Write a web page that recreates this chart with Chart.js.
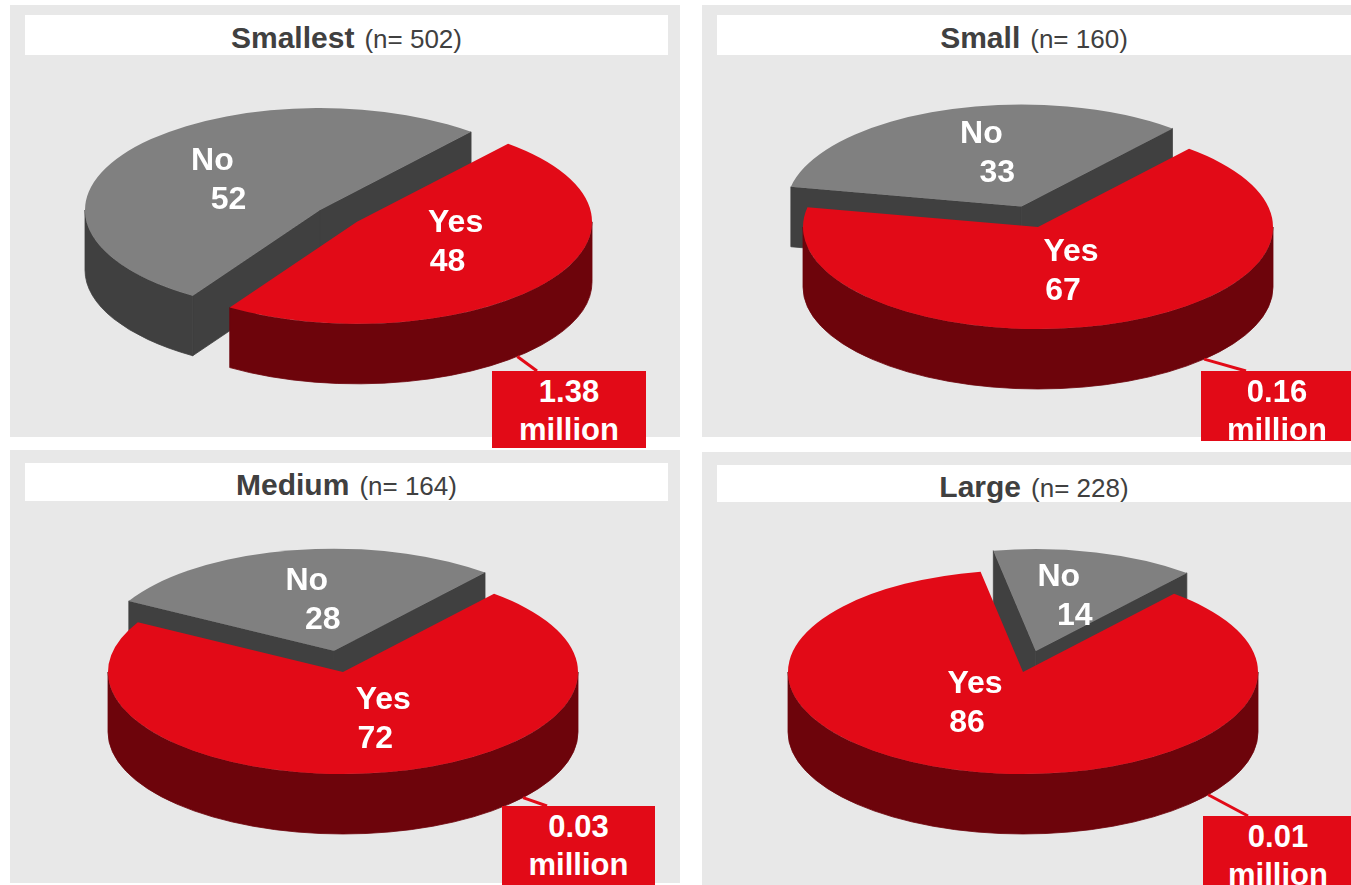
<!DOCTYPE html>
<html>
<head>
<meta charset="utf-8">
<script src="https://cdn.jsdelivr.net/npm/chart.js@4.4.0/dist/chart.umd.min.js"></script>
<style>
  body { margin: 0; width: 1351px; height: 885px; background: #fff; position: relative; overflow: hidden;
         font-family: "Liberation Sans", Arial, sans-serif; }
  .panel { position: absolute; background: #e8e8e8; }
  .title { position: absolute; background: #fff; color: #404040; text-align: center; white-space: nowrap; }
  .title b { font-size: 30px; }
  .title span { font-size: 26px; margin-left: 10px; }
  canvas { position: absolute; z-index: 2; }
  .callout { position: absolute; z-index: 5; background: #e20a17; color: #fff; font-weight: bold;
             font-size: 31px; line-height: 38px; padding-top: 2px; box-sizing: border-box; text-align: center; }
</style>
</head>
<body>
<script>
// survey answers per firm size, shares in percent
const groups = ['Smallest', 'Small', 'Medium', 'Large'];
const sampleSizes = [502, 160, 164, 228];
const answers = ['Yes', 'No'];
const yesShare = [48, 67, 72, 86];
const noShare = [52, 33, 28, 14];
const firmsMillion = ['1.38', '0.16', '0.03', '0.01'];

// panel layout (page pixels)
const layout = [
  { box: [10, 5, 670, 432],  title: [25, 15, 643, 40],  center: [320, 210], explode: [46, 0],
    callout: [492, 371, 154, 77], leaderAngle: 47, nudge: [[0, -10], [-5, 0]] },
  { box: [702, 5, 649, 432], title: [717, 15, 634, 40], center: [1038, 227], explode: [0, 50],
    callout: [1201, 371, 152, 70], leaderAngle: 45, nudge: [[-10, -4], [7, -5]] },
  { box: [10, 450, 670, 433], title: [25, 463, 643, 38], center: [343, 672], explode: [0, 50],
    callout: [502, 806, 153, 79], leaderAngle: 40, nudge: [[15, -3], [2, 0]] },
  { box: [702, 452, 649, 433], title: [717, 465, 634, 37], center: [1023, 672], explode: [0, 50],
    callout: [1203, 816, 150, 69], leaderAngle: 38, nudge: [[-22, -18], [1, -6]] }
];

const TILT = 0.434;     // vertical squash of the pie disc
const DEPTH = 60;       // thickness of the disc
const CW = 560, CH = 420;
const TOP = ['#e20a17', '#808080'];
const SIDE = ['#6d040b', '#404040'];
const LINE_SHIFT = [[4, -4], [-8, 8]];

function place(el, r) {
  el.style.left = r[0] + 'px'; el.style.top = r[1] + 'px';
  el.style.width = r[2] + 'px'; el.style.height = r[3] + 'px';
}

function geometry(arc) {
  const p = arc.getProps(['x', 'y', 'startAngle', 'endAngle', 'outerRadius']);
  const mid = (p.startAngle + p.endAngle) / 2;
  const off = arc.options.offset || 0;
  return {
    cx: p.x + Math.cos(mid) * off,
    cy: p.y + TILT * Math.sin(mid) * off,
    r: p.outerRadius, s: p.startAngle, e: p.endAngle, mid
  };
}

function drawPiece(ctx, g, top, side) {
  const { cx, cy, r, s, e } = g;
  const ry = r * TILT;
  ctx.fillStyle = side;
  ctx.strokeStyle = side;
  ctx.lineWidth = 0.8;
  // radial cut faces turned towards the viewer
  [[s, Math.cos(s) < 0], [e, Math.cos(e) > 0]].forEach(([a, show]) => {
    if (!show) return;
    const px = cx + r * Math.cos(a), py = cy + ry * Math.sin(a);
    ctx.beginPath();
    ctx.moveTo(cx, cy); ctx.lineTo(px, py);
    ctx.lineTo(px, py + DEPTH); ctx.lineTo(cx, cy + DEPTH);
    ctx.closePath(); ctx.fill(); ctx.stroke();
  });
  // front part of the rim
  for (let k = -1; k <= 1; k++) {
    const a = Math.max(s, 2 * Math.PI * k), b = Math.min(e, 2 * Math.PI * k + Math.PI);
    if (b <= a) continue;
    ctx.beginPath();
    ctx.ellipse(cx, cy, r, ry, 0, a, b);
    ctx.ellipse(cx, cy + DEPTH, r, ry, 0, b, a, true);
    ctx.closePath(); ctx.fill(); ctx.stroke();
  }
  // lid
  ctx.fillStyle = top;
  ctx.beginPath();
  ctx.moveTo(cx, cy);
  ctx.ellipse(cx, cy, r, ry, 0, s, e);
  ctx.closePath(); ctx.fill();
}

const pie3d = {
  id: 'pie3d',
  beforeDatasetDraw(chart) {
    const ctx = chart.ctx;
    const arcs = chart.getDatasetMeta(0).data;
    const pieces = arcs.map((arc, i) => ({ i, g: geometry(arc) }));
    pieces.sort((a, b) => Math.sin(a.g.mid) - Math.sin(b.g.mid));
    ctx.save();
    pieces.forEach(p => drawPiece(ctx, p.g, TOP[p.i], SIDE[p.i]));
    ctx.restore();
    return false;
  },
  afterDatasetsDraw(chart, args, opts) {
    const ctx = chart.ctx;
    const arcs = chart.getDatasetMeta(0).data;
    const values = chart.data.datasets[0].data;
    ctx.save();
    // leader from the Yes rim to its callout box
    const gy = geometry(arcs[0]);
    const la = opts.leaderAngle * Math.PI / 180;
    ctx.strokeStyle = '#e20a17';
    ctx.lineWidth = 3;
    ctx.beginPath();
    ctx.moveTo(gy.cx + gy.r * Math.cos(la), gy.cy + gy.r * TILT * Math.sin(la) + DEPTH);
    ctx.lineTo(opts.leaderEnd[0], opts.leaderEnd[1]);
    ctx.stroke();
    // slice labels
    ctx.font = 'bold 32px "Liberation Sans", Arial, sans-serif';
    ctx.fillStyle = '#fff';
    ctx.textAlign = 'center';
    ctx.textBaseline = 'middle';
    arcs.forEach((arc, i) => {
      const g = geometry(arc);
      const x = g.cx + 0.5 * g.r * Math.cos(g.mid) + opts.nudge[i][0];
      const y = g.cy + 0.5 * g.r * TILT * Math.sin(g.mid) + opts.nudge[i][1];
      ctx.fillText(chart.data.labels[i], x + LINE_SHIFT[i][0], y - 19);
      ctx.fillText(String(values[i]), x + LINE_SHIFT[i][1], y + 20);
    });
    ctx.restore();
  }
};

groups.forEach((name, n) => {
  const L = layout[n];
  const panel = document.createElement('div');
  panel.className = 'panel';
  place(panel, L.box);
  document.body.appendChild(panel);

  const title = document.createElement('div');
  title.className = 'title';
  place(title, L.title);
  title.style.lineHeight = (L.title[3] + 6) + 'px';
  title.innerHTML = '<b>' + name + '</b><span>(n= ' + sampleSizes[n] + ')</span>';
  document.body.appendChild(title);

  const canvas = document.createElement('canvas');
  canvas.width = CW; canvas.height = CH;
  const left = L.center[0] - CW / 2, top = L.center[1] - CH / 2;
  canvas.style.left = left + 'px'; canvas.style.top = top + 'px';
  document.body.appendChild(canvas);

  const box = document.createElement('div');
  box.className = 'callout';
  place(box, L.callout);
  box.innerHTML = firmsMillion[n] + '<br>million';
  document.body.appendChild(box);

  new Chart(canvas, {
    type: 'pie',
    data: {
      labels: answers,
      datasets: [{
        data: [yesShare[n], noShare[n]],
        backgroundColor: TOP,
        borderWidth: 0,
        offset: L.explode
      }]
    },
    options: {
      responsive: false,
      devicePixelRatio: 1,
      animation: false,
      events: [],
      rotation: 40,
      radius: 235,
      layout: { padding: 0 },
      plugins: {
        legend: { display: false },
        tooltip: { enabled: false },
        pie3d: {
          leaderAngle: L.leaderAngle,
          leaderEnd: [L.callout[0] + 45 - left, L.callout[1] - top],
          nudge: L.nudge
        }
      }
    },
    plugins: [pie3d]
  });
});
</script>
</body>
</html>
